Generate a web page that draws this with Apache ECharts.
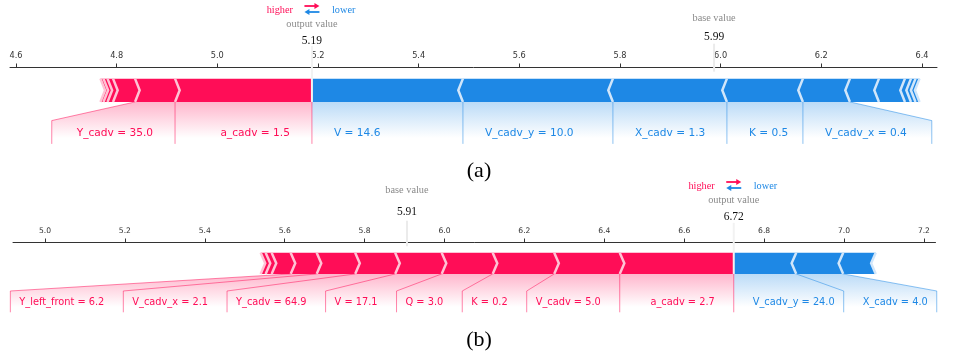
<!DOCTYPE html>
<html><head><meta charset="utf-8">
<script src="https://cdn.jsdelivr.net/npm/echarts@6/dist/echarts.min.js"></script>
<style>html,body{margin:0;padding:0;background:#fff}#c{width:953px;height:355px}</style>
</head><body><div id="c"></div>
<script>
// ---------- Panel (a) data ----------
const outA = 5.188;          // output value (shown 5.19)
const baseA = 5.987;         // base value (shown 5.99)
const posNamesA = ['a_cadv', 'Y_cadv', '', '', '', ''];
const posValsA  = ['1.5', '35.0', '', '', '', ''];
const posEffA   = [0.272, 0.0795, 0.0437, 0.011, 0.008, 0.006];
const negNamesA = ['V', 'V_cadv_y', 'X_cadv', 'K', 'V_cadv_x', '', '', '', '', ''];
const negValsA  = ['14.6', '10.0', '1.3', '0.5', '0.4', '', '', '', '', ''];
const negEffA   = [0.300, 0.298, 0.2265, 0.151, 0.0934, 0.0576, 0.0517, 0.012, 0.009, 0.008];
const ticksA = [4.6, 4.8, 5.0, 5.2, 5.4, 5.6, 5.8, 6.0, 6.2, 6.4];

// ---------- Panel (b) data ----------
const outB = 6.724;          // output value (shown 6.72)
const baseB = 5.906;         // base value (shown 5.91)
const posNamesB = ['a_cadv', 'V_cadv', 'K', 'Q', 'V', 'Y_cadv', 'V_cadv_x', 'Y_left_front', '', '', ''];
const posValsB  = ['2.7', '5.0', '0.2', '3.0', '17.1', '64.9', '2.1', '6.2', '', '', ''];
const posEffB   = [0.2854, 0.164, 0.154, 0.1277, 0.1164, 0.1001, 0.0964, 0.0651, 0.0476, 0.015, 0.0125];
const negNamesB = ['V_cadv_y', 'X_cadv', ''];
const negValsB  = ['24.0', '4.0', ''];
const negEffB   = [0.1564, 0.1176, 0.0814];
const ticksB = [5.0, 5.2, 5.4, 5.6, 5.8, 6.0, 6.2, 6.4, 6.6, 6.8, 7.0, 7.2];

// ---------- styling / layout ----------
const RED = '#FF0D57', RED_L = '#FFC3D5', BLUE = '#1E88E5', BLUE_L = '#D1E6FA';
const SANS = '"DejaVu Sans"', SERIF = '"Liberation Serif", "Times New Roman", serif';
const cfgA = { out: outA, base: baseA, posNames: posNamesA, posVals: posValsA, posEff: posEffA,
  negNames: negNamesA, negVals: negValsA, negEff: negEffA, xMin: 4.5881, xMax: 6.4299,
  featFont: 10.6, near: 22, far: 25, valOff: 26, outLblOff: 43, hlOff: 57, arrowOff: [61, 55],
  baseLblOff: 49, baseValOff: 30 };
const cfgB = { out: outB, base: baseB, posNames: posNamesB, posVals: posValsB, posEff: posEffB,
  negNames: negNamesB, negVals: negValsB, negEff: negEffB, xMin: 4.9199, xMax: 7.2290,
  featFont: 9.8, near: 19, far: 9, valOff: 25, outLblOff: 42, hlOff: 56, arrowOff: [60, 54],
  baseLblOff: 52, baseValOff: 30 };

const mctx = document.createElement('canvas').getContext('2d');
function measure(t, fs, fam) { mctx.font = fs + 'px ' + fam; return mctx.measureText(t).width; }

function makeRender(cfg) {
  return function (params, api) {
    const P = p => api.coord(p);
    const X = v => api.coord([v, 0])[0];
    const Y = v => api.coord([cfg.out, v])[1];
    const kids = [];
    const w = 0.1;
    const ind = (cfg.xMax - cfg.xMin) / 200;

    function bars(effs, sign, col, sepCol) {
      let pre = cfg.out;
      const rects = [], seps = [];
      effs.forEach((e, i) => {
        const nb = pre - sign * e;
        let left, right, si, sepPos;
        if (sign === 1) { left = nb; right = pre; si = ind; sepPos = left; }
        else { left = pre; right = nb; si = -ind; sepPos = right; }
        let pts;
        if (i === 0) {
          pts = sign === 1 ? [[left, 0], [right, 0], [right, w], [left, w], [left + si, w / 2]]
                           : [[right, 0], [left, 0], [left, w], [right, w], [right + si, w / 2]];
        } else {
          pts = [[left, 0], [right, 0], [right + si * 0.9, w / 2], [right, w], [left, w], [left + si * 0.9, w / 2]];
        }
        rects.push({ type: 'polygon', shape: { points: pts.map(P) }, style: { fill: col } });
        seps.push({ type: 'polyline', shape: { points: [[sepPos, 0], [sepPos + si, w / 2], [sepPos, w]].map(P) },
          style: { stroke: sepCol, lineWidth: 2.5, fill: null } });
        pre = nb;
      });
      return rects.concat(seps);
    }

    function labels(names, vals, effs, sign, col, rgb) {
      const items = [], lines = [];
      const outPx = X(cfg.out);
      const yb0 = Y(0), yb1 = Y(-0.08), yb2 = Y(-0.18), yText = Y(-0.15), ySh = Y(-0.2);
      const fs = cfg.featFont;
      let start = outPx, boxEnd = outPx, pre = cfg.out, lastVal = cfg.out;
      const lineStyle = { stroke: col, opacity: 0.5, lineWidth: 1, fill: null };
      if (sign === 1) lines.push({ type: 'line', shape: { x1: outPx, y1: yb0, x2: outPx, y2: yb2 }, style: lineStyle });
      for (let i = 0; i < effs.length; i++) {
        if (!names[i]) break;
        const v = pre - sign * effs[i];
        const vPx = X(v);
        const text = names[i] + ' = ' + vals[i];
        const tw = measure(text, fs, SANS);
        let tl, tr;
        if (sign === 1) { tr = start - cfg.near; tl = tr - tw; }
        else { tl = start + cfg.near; tr = tl + tw; }
        items.push({ type: 'text', x: tl, y: yText - 0.36 * fs,
          style: { text: text, fill: col, fontSize: fs, fontFamily: SANS, align: 'left', verticalAlign: 'middle' } });
        const edge = sign === 1 ? tl - 3 : tr + 3;
        if (sign * edge > sign * vPx) {
          lines.push({ type: 'line', shape: { x1: vPx, y1: yb0, x2: vPx, y2: yb2 }, style: lineStyle });
          start = vPx; boxEnd = vPx;
        } else {
          boxEnd = sign === 1 ? tl - cfg.far : tr + cfg.far;
          lines.push({ type: 'polyline', shape: { points: [[vPx, yb0], [boxEnd, yb1], [boxEnd, yb2]] }, style: lineStyle });
          start = boxEnd;
        }
        pre = v; lastVal = v;
      }
      const lv = X(lastVal);
      const grad = new echarts.graphic.LinearGradient(0, 0, 0, 1, [
        { offset: 0, color: 'rgba(' + rgb + ',0.3)' },
        { offset: 0.775, color: 'rgba(' + rgb + ',0)' },
        { offset: 1, color: 'rgba(' + rgb + ',0)' }]);
      const shade = { type: 'polygon', shape: { points: [[outPx, yb0], [lv, yb0], [boxEnd, yb1], [boxEnd, ySh], [outPx, ySh]] },
        style: { fill: grad } };
      return [shade].concat(lines, items);
    }

    kids.push(...bars(cfg.negEff, -1, BLUE, BLUE_L));
    kids.push(...bars(cfg.posEff, 1, RED, RED_L));
    kids.push(...labels(cfg.negNames, cfg.negVals, cfg.negEff, -1, BLUE, '30,136,229'));
    kids.push(...labels(cfg.posNames, cfg.posVals, cfg.posEff, 1, RED, '255,13,87'));

    const axisY = Y(0.15);
    const ox = X(cfg.out), bx = X(cfg.base);
    // higher / lower
    kids.push({ type: 'text', x: ox - 19, y: axisY - cfg.hlOff,
      style: { text: 'higher', fill: RED, fontSize: 10.3, fontFamily: SERIF, align: 'right', verticalAlign: 'middle' } });
    kids.push({ type: 'text', x: ox + 20, y: axisY - cfg.hlOff,
      style: { text: 'lower', fill: BLUE, fontSize: 10.3, fontFamily: SERIF, align: 'left', verticalAlign: 'middle' } });
    const ya = axisY - cfg.arrowOff[0], yb = axisY - cfg.arrowOff[1];
    kids.push({ type: 'line', shape: { x1: ox - 7.5, y1: ya, x2: ox + 4, y2: ya }, style: { stroke: RED, lineWidth: 1.8 } });
    kids.push({ type: 'polygon', shape: { points: [[ox + 7.5, ya], [ox + 2.5, ya - 3], [ox + 2.5, ya + 3]] }, style: { fill: RED } });
    kids.push({ type: 'line', shape: { x1: ox - 4, y1: yb, x2: ox + 7.5, y2: yb }, style: { stroke: BLUE, lineWidth: 1.8 } });
    kids.push({ type: 'polygon', shape: { points: [[ox - 7.5, yb], [ox - 2.5, yb - 3], [ox - 2.5, yb + 3]] }, style: { fill: BLUE } });
    // base value
    kids.push({ type: 'line', shape: { x1: bx, y1: Y(0.13), x2: bx, y2: Y(0.25) }, style: { stroke: '#EBEBEB', lineWidth: 2 } });
    kids.push({ type: 'text', x: bx, y: axisY - cfg.baseLblOff,
      style: { text: 'base value', fill: '#8a8a8a', fontSize: 10.3, fontFamily: SERIF, align: 'center', verticalAlign: 'middle' } });
    kids.push({ type: 'text', x: bx, y: axisY - cfg.baseValOff,
      style: { text: cfg.base.toFixed(2), fill: '#111', fontSize: 11.5, fontFamily: SERIF, align: 'center', verticalAlign: 'middle' } });
    // output value
    kids.push({ type: 'line', shape: { x1: ox, y1: Y(0), x2: ox, y2: Y(0.24) }, style: { stroke: '#F2F2F2', lineWidth: 2 } });
    kids.push({ type: 'text', x: ox, y: axisY - cfg.outLblOff,
      style: { text: 'output value', fill: '#8a8a8a', fontSize: 10.3, fontFamily: SERIF, align: 'center', verticalAlign: 'middle' } });
    kids.push({ type: 'text', x: ox, y: axisY - cfg.valOff,
      style: { text: cfg.out.toFixed(2), fill: '#111', fontSize: 11.5, fontFamily: SERIF, align: 'center', verticalAlign: 'middle' } });
    return { type: 'group', children: kids };
  };
}

function xAxisFor(gi, cfg, ticks, fs) {
  return {
    gridIndex: gi, type: 'value', position: 'top', min: cfg.xMin, max: cfg.xMax,
    axisLine: { show: true, onZero: false, lineStyle: { color: '#333', width: 1 } },
    axisTick: { show: true, customValues: ticks, length: 3.5, lineStyle: { color: '#333' } },
    axisLabel: { show: true, customValues: ticks, formatter: v => Number(v).toFixed(1), fontSize: fs,
      fontFamily: SANS, color: '#333', margin: 7 },
    splitLine: { show: false }
  };
}

const chart = echarts.init(document.getElementById('c'), null, { renderer: 'canvas' });
chart.setOption({
  animation: false,
  backgroundColor: '#fff',
  grid: [
    { left: 10, top: 67, width: 927, height: 116.5, outerBoundsMode: 'none', containLabel: false },
    { left: 13, top: 242, width: 922.5, height: 106.5, outerBoundsMode: 'none', containLabel: false }
  ],
  xAxis: [xAxisFor(0, cfgA, ticksA, 8.2), xAxisFor(1, cfgB, ticksB, 7.6)],
  yAxis: [
    { gridIndex: 0, type: 'value', min: -0.35, max: 0.15, show: false },
    { gridIndex: 1, type: 'value', min: -0.35, max: 0.15, show: false }
  ],
  series: [
    { type: 'custom', coordinateSystem: 'cartesian2d', xAxisIndex: 0, yAxisIndex: 0, clip: false, silent: true,
      data: [[outA, 0]], renderItem: makeRender(cfgA), z: 3 },
    { type: 'custom', coordinateSystem: 'cartesian2d', xAxisIndex: 1, yAxisIndex: 1, clip: false, silent: true,
      data: [[outB, 0]], renderItem: makeRender(cfgB), z: 3 }
  ],
  graphic: [
    { type: 'text', x: 479, y: 171, style: { text: '(a)', fill: '#000', fontSize: 22, fontFamily: SERIF, align: 'center', verticalAlign: 'middle' } },
    { type: 'text', x: 479, y: 340, style: { text: '(b)', fill: '#000', fontSize: 22, fontFamily: SERIF, align: 'center', verticalAlign: 'middle' } }
  ]
});
</script>
</body></html>
